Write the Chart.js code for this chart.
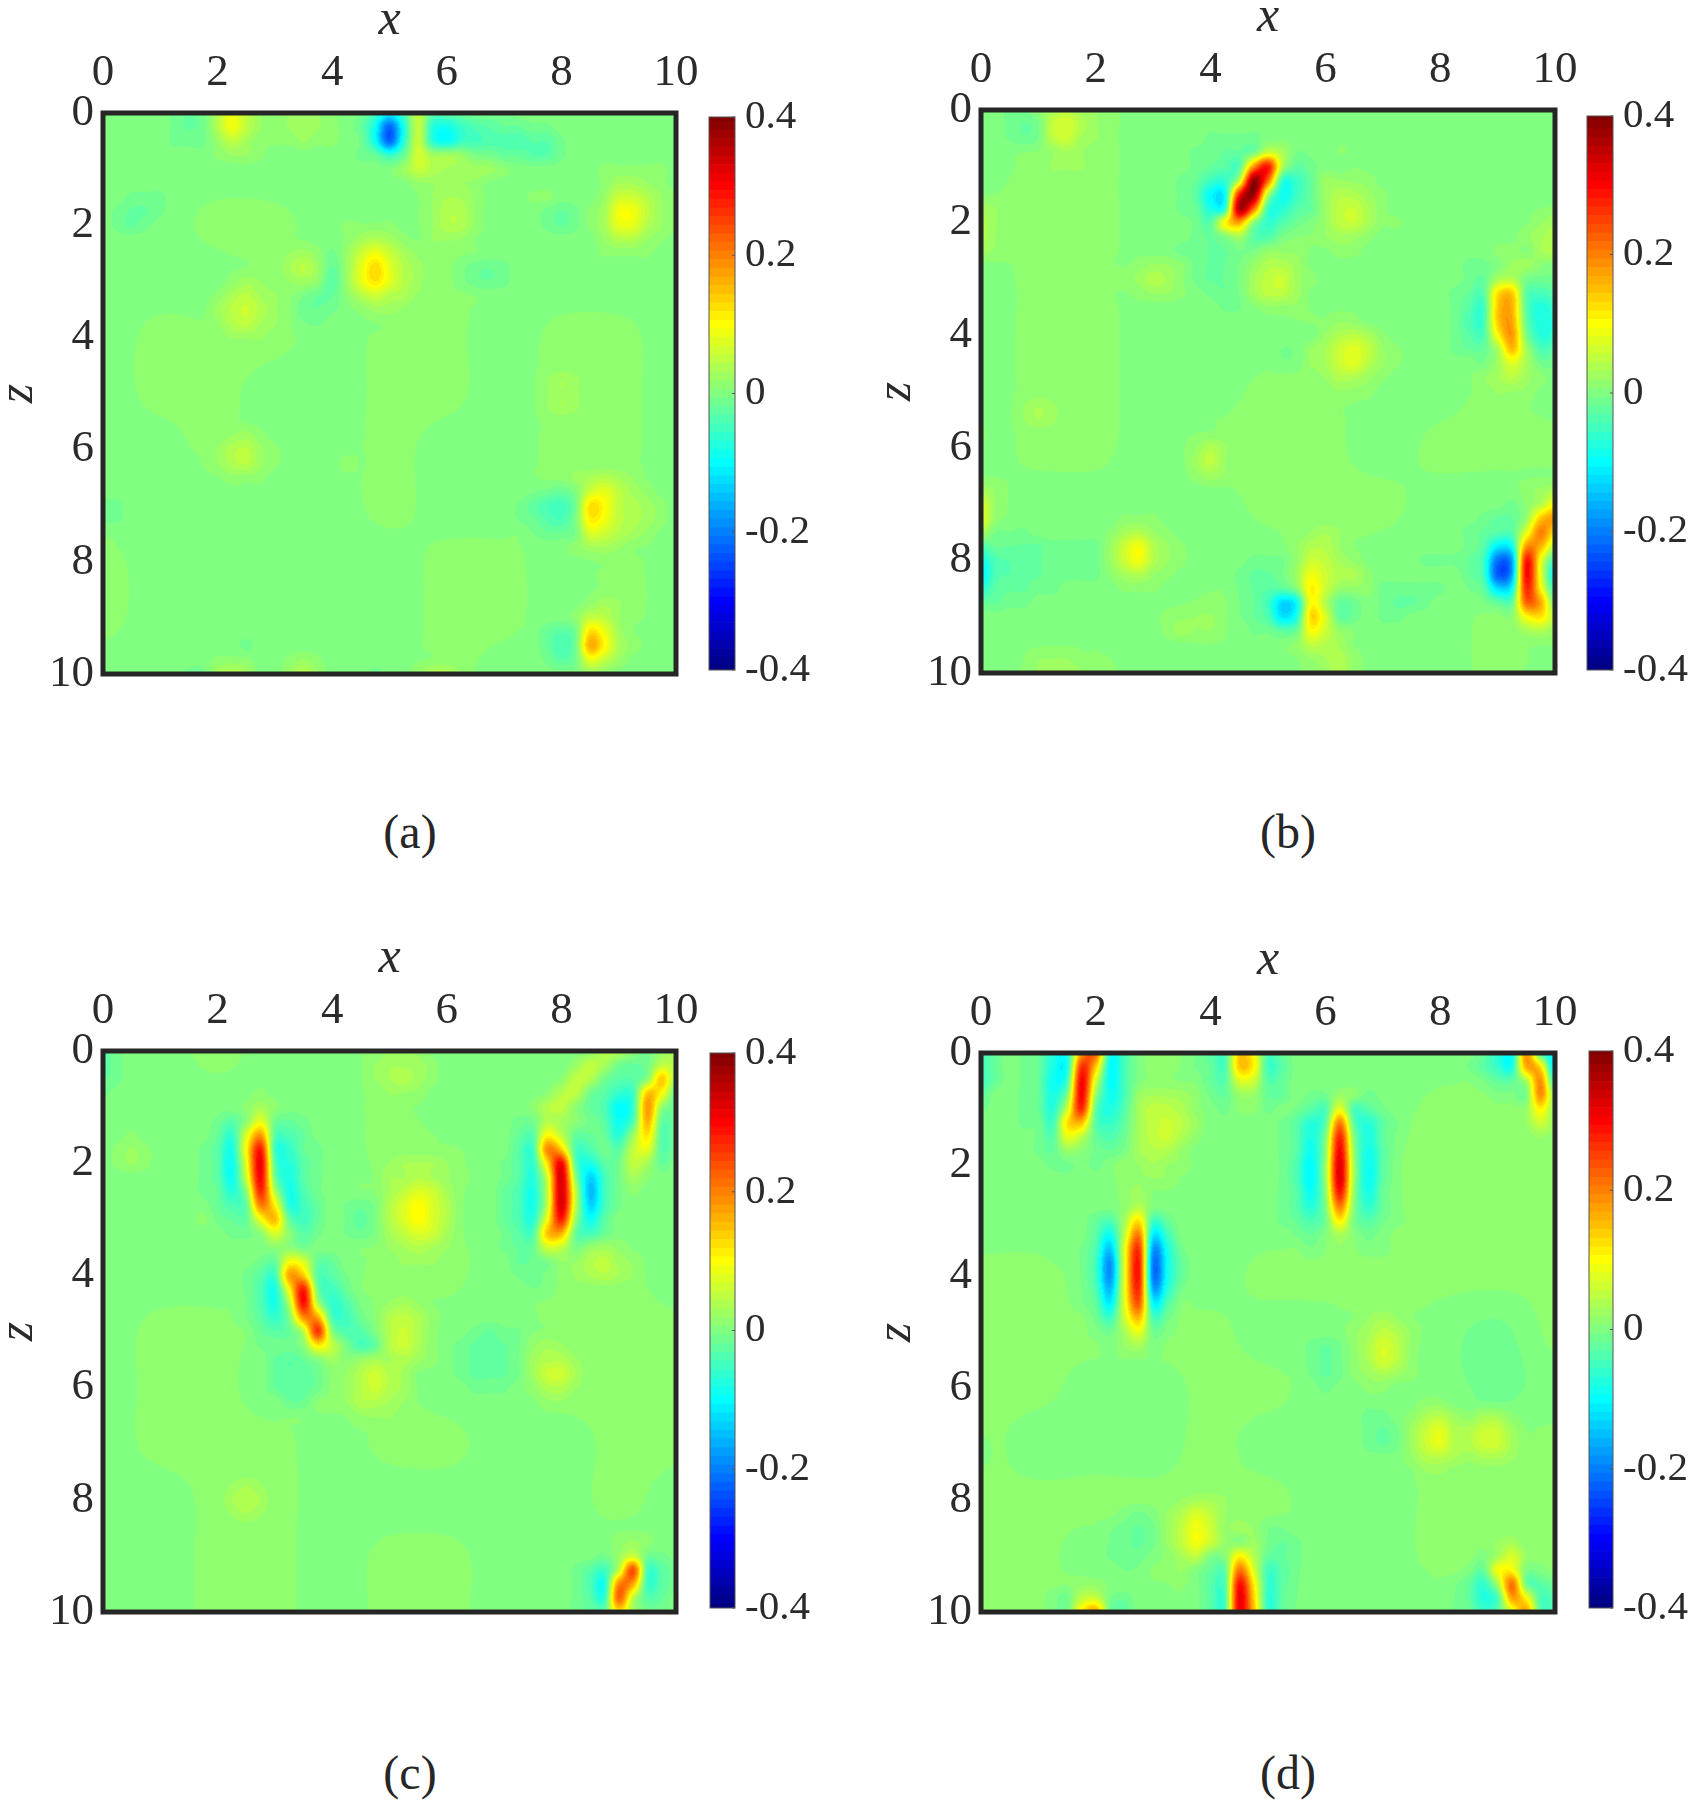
<!DOCTYPE html>
<html>
<head>
<meta charset="utf-8">
<script src="https://cdn.jsdelivr.net/npm/chart.js@4"></script>
<style>
  html, body { margin: 0; padding: 0; background: #fff; }
  body { position: relative; width: 1695px; height: 1800px; overflow: hidden; }
  canvas { position: absolute; }
  .caption { position: absolute; width: 120px; text-align: center; font: 48px "Liberation Serif", serif; color: #262626; line-height: 56px; }
</style>
</head>
<body>
<script>
'use strict';

const axisTicks = [0, 2, 4, 6, 8, 10];
const colorTicks = [-0.4, -0.2, 0, 0.2, 0.4];
const captions = ['(a)', '(b)', '(c)', '(d)'];
const gridStep = 0.25;   // spacing of the nodes
const levelStep = 0.0125; // width of one colour band

// faint background per whole unit, rows z=0..10, columns x=0..10 (hundredths)
const baseA = [
  [0,0,0,0,0,0,0,0,0,0,0],
  [0,0,0,0,0,0,1,0,0,0,0],
  [0,0,1,1,0,0,1,0,0,0,0],
  [0,0,0,1,0,0,1,0,0,0,0],
  [0,1,1,1,0,1,1,0,1,1,0],
  [0,1,1,0,0,1,1,0,1,1,0],
  [0,0,1,0,0,1,0,0,1,1,0],
  [0,0,0,0,0,1,0,0,1,1,0],
  [1,0,0,0,0,0,1,1,0,1,0],
  [1,0,0,0,0,0,1,1,0,1,0],
  [0,0,0,0,0,0,1,0,0,0,0]
];
const baseB = [
  [0,0,1,0,0,0,0,0,0,0,0],
  [0,1,1,0,0,0,1,0,0,0,0],
  [1,1,1,0,0,0,1,0,0,0,1],
  [0,1,1,0,0,1,0,0,0,0,1],
  [0,1,1,0,0,0,1,0,0,0,0],
  [0,1,1,0,0,1,1,0,0,1,0],
  [0,1,1,0,1,1,1,0,1,1,1],
  [1,0,0,0,0,1,1,1,0,0,0],
  [0,0,0,0,0,0,1,0,0,0,0],
  [0,0,0,0,1,0,1,0,0,1,1],
  [0,1,1,0,0,0,1,0,0,1,0]
];
const baseC = [
  [0,0,1,0,0,1,0,0,0,0,0],
  [0,0,0,0,0,1,0,0,0,0,0],
  [0,0,0,0,0,1,1,0,0,0,0],
  [0,0,0,0,0,1,1,0,0,0,0],
  [0,0,0,0,0,1,1,0,1,1,0],
  [0,1,1,0,0,1,0,0,1,1,1],
  [0,1,1,0,1,1,0,0,1,1,1],
  [0,1,1,1,0,1,1,0,0,1,1],
  [0,0,1,1,0,0,0,0,0,1,0],
  [0,0,1,1,0,1,1,0,0,0,0],
  [0,0,1,1,0,1,1,0,0,0,0]
];
const baseD = [
  [0,0,0,1,0,0,0,0,0,0,0],
  [0,0,0,1,0,0,0,0,1,1,1],
  [0,0,0,1,0,0,0,1,1,1,1],
  [0,0,0,0,0,0,0,1,1,1,1],
  [1,1,0,0,0,1,1,1,1,1,1],
  [1,1,1,1,1,0,0,1,0,-1,1],
  [1,1,0,0,1,1,0,0,0,-1,0],
  [1,0,0,0,1,0,0,0,1,1,1],
  [1,1,1,1,1,1,0,0,1,1,1],
  [1,1,0,1,1,0,0,0,1,1,1],
  [1,1,1,0,1,1,0,0,0,1,1]
];

// values, in hundredths: [z, first x, values at x, x+0.25, ...]
const spansA = [
  [0,1.25,-1,-2,-1,4,9,5,2,1,2,3,2,1,0,-1,-5,-11,-4,5,-3,-3,-2,-1,-1,-1],
  [0.25,1.25,-1,-2,-1,4,9,5,2,1,2,3,2,1,0,-2,-9,-22,-8,5,-7,-9,-6,-4,-3,-2,-2,-1,-1],
  [0.5,1.25,-1,-1,-1,2,5,3,1,1,1,2,1,1,0,-1,-9,-22,-7,5,-7,-10,-6,-5,-4,-4,-4,-3,-3,-1],
  [0.75,2,1,2,2,1],
  [0.75,4.5,-1,-2,-6,-2,6,2,2,1,-1,-1,-2,-2,-3,-3,-1],
  [1,5.25,2,5,3,2,2,2,2,1],
  [1.25,5.5,1,1,1,1,1],
  [1.5,5.75,1,2,2,1],[1.75,5.75,1,3,3,1],[2,5.75,1,3,3,1],[2.25,5.75,1,1,1],
  [1.5,0.5,-1,-1,-1],[1.75,0.25,-1,-2,-2,-1],[2,0.25,-1,-2,-1],
  [1.75,7.75,-1,-2,-1],[2,7.75,-1,-2,-1],[1.5,7.5,1,1],
  [1,8.75,1,1,1,1,1],[1.25,8.75,1,3,3,2,1],[1.5,8.75,2,6,6,4,2,1],
  [1.75,8.5,1,3,9,9,5,2,1],[2,8.5,1,3,8,8,4,2,1],[2.25,8.75,2,4,4,2,1],[2.5,8.75,1,1,1,1],
  [2.5,4,-1],[2.75,4,-2],[3,3.75,-1,-3],[3.25,3.5,-1,-2,-2],[3.5,3.5,-2,-2,-1],[3.75,3.5,-1,-1],
  [2,4.25,1,1,1,1],[2.25,4.25,1,3,4,3,1],[2.5,4.25,2,6,9,6,3,1],[2.75,4.25,2,8,13,8,4,2],
  [3,4.25,2,8,12,8,4,2],[3.25,4.25,1,4,6,4,3,1],[3.5,4.5,1,2,2,1],
  [2.5,3.25,1,2,1],[2.75,3.25,2,4,2],[3,3.25,1,2,1],
  [3,2.25,1,2,1],[3.25,2,1,3,4,2,1],[3.5,2,2,4,5,3,1],[3.75,2,1,3,4,2,1],[4,2.25,1,1,1],
  [5.75,2.25,1,2,1],[6,2,1,3,4,2,1],[6.25,2,1,3,4,2,1],[6.5,2.25,1,1,1],
  [2.75,6.25,-1,-2,-2,-1],[3,6.25,-1,-2,-2,-1],
  [6.25,4.25,1],
  [4.75,7.75,1,2,1],[5,7.75,1,2,1],[5.25,7.75,1,2,1],
  [7,0,-1,-1],[7.25,0,-1,-1],
  [6.5,8.25,1,2,3,2,1],
  [6.75,7.5,-1,-2,-3,-1,5,7,4,2,1],
  [7,7.25,-1,-3,-5,-6,-2,11,9,4,3,2,1],
  [7.25,7.25,-1,-2,-4,-5,-1,10,8,4,3,2,1],
  [7.5,7.5,-1,-2,-2,-1,6,5,3,2,1],
  [7.75,8.25,1,2,2,1],
  [8.75,8.5,1,2,1],[9,8.25,1,5,4,1],
  [9.25,7.75,-2,-3,-1,12,8,2],[9.5,7.75,-2,-4,-1,16,10,3,1],[9.75,7.75,-1,-3,-1,8,5,2],[10,8.5,2,1],
  [10,1.5,-1,-1,3,4,3],[9.75,2,1,1,1],[9.75,3.25,1,2,1],[10,3.25,2,4,2],
  [10,4.75,-1],[10,5.5,1,3,3,1],[9.5,2.5,-1]
];
const spansB = [
  [0.5,4,-1,-1,-1,-1],
  [0.75,3.75,-1,-1,-2,-2,-1,6,3,-1,-1,-1],
  [1,3.75,-1,-2,-3,-3,18,28,4,-3,-2,-1,-1],
  [1.25,3.5,-1,-2,-5,-6,5,38,22,-6,-6,-3,-1,-1],
  [1.5,3.5,-1,-3,-10,-9,28,38,4,-9,-6,-3,-1],
  [1.75,3.5,-1,-2,-8,-6,36,22,-5,-7,-4,-3,-1],
  [2,3.5,0,-1,-3,10,17,1,-6,-4,-2,-1],
  [2.25,3.5,0,-1,-2,0,3,-3,-4,-1],
  [2.5,3.5,-1,-1,-2,-2,-1,-1,-1],
  [2.75,3.5,0,-1,-2,-2,-1,-1],
  [3,3.75,-1,-2,-2,-1],[3.25,4,-1,-2,-1],[3.5,4.25,-1,-1],
  [0,1,1,3,4,2,1],[0.25,1,2,5,6,3,1],[0.5,1,1,4,5,2,1],[0.75,1.25,1,2,1],[1,1.25,1,1,1],
  [0,0.5,-1,-1],[0.25,0.5,-1,-2,-1],[0.5,0.5,-1,-2,-1],
  [1.25,6,1,1,1,1],[1.5,6,1,3,3,2,1],[1.75,6,1,4,5,3,1],[2,6,1,4,5,3,1,1],[2.25,6,1,2,2,1],[2.5,6.25,1,1],
  [2.5,5,1,1,1],[2.75,4.75,1,3,3,2],[3,4.75,2,4,5,2,1],[3.25,4.75,2,4,4,2],[3.5,5,1,1,1],
  [2.75,2.75,1,2,2,1],[3,2.5,1,2,4,3,1],[3.25,2.75,1,2,2,1],
  [4,5.5,-1,-1],[4.25,5.25,-1,-1,-2],[4.5,5.25,-1,-1,-1],
  [3.75,6.25,1,1],[4,6,1,3,4,3,1],[4.25,5.75,1,2,5,7,5,2,1],[4.5,5.75,1,2,5,7,4,2,1],[4.75,6,1,3,3,2,1],[5,6.25,1,1,1],
  [2.5,9,1,1],
  [2.75,8.5,-1,-1,0,2,2,0,-1],
  [3,8.5,-1,-2,3,4,-1,-2,-2],
  [3.25,8.25,-1,-2,-3,12,14,-3,-5,-4],
  [3.5,8.25,-1,-3,-5,14,16,-3,-8,-6],
  [3.75,8.25,-1,-4,-5,14,17,-2,-8,-7],
  [4,8.25,-1,-3,-4,10,18,0,-7,-6],
  [4.25,8.25,-1,-2,-2,3,15,3,-4,-3],
  [4.5,8.5,0,-1,2,7,3,-1,-1],
  [4.75,8.75,1,2,4,2,1],[5,9,1,1,1],
  [2,9.75,1,2],[2.25,9.5,1,2,3],[2.5,9.75,2,3],
  [1.75,0,2,1],[2,0,3,1],[2.25,0,3,1],[2.5,0,2,1],
  [5.25,0.75,1,2,1],[5.5,0.75,1,2,1],
  [6,3.75,1,3,1],[6.25,3.75,2,4,1],[6.5,3.75,1,2,1],
  [5.75,0,1],[6.75,0,2,1],[7,0,6,1],[7.25,0,7,1],[7.5,0,3],
  [7.5,0.25,-1,-1,-1],
  [7.75,0,-4,-2,-2,-2,-2,-1,-1,-1,-1],[8,0,-9,-4,-3,-2,-2,-1,-1,-1,-1],[8.25,0,-11,-4,-3,-2,-2,-1,-1,-1,-1],
  [8.5,0,-7,-3,-2,-2,-1,-1],[8.75,0,-2,-2,-1,-1],
  [7.25,2.5,1,1,1],[7.5,2.25,1,3,4,2,1],[7.75,2.25,2,6,9,4,2,1],[8,2.25,2,6,9,4,2,1],[8.25,2.25,1,3,4,2,1],[8.5,2.5,1,1,1],
  [7.5,5.75,1,2,1],[7.75,5.5,1,3,3,1],
  [8,4.75,-1,-1,-1,1,5,4,2,1],
  [8.25,4.5,-1,-2,-2,-1,2,8,5,3,3,1],
  [8.5,4.5,-1,-2,-3,-3,0,10,5,1,1,1],
  [8.75,4.5,-1,-2,-5,-13,-10,9,3,-3,-2,0,-1,-2,-2,-1],
  [9,4.5,-1,-2,-4,-12,-8,12,6,-3,-2,0,-1,-1],
  [9.25,4.75,-1,-1,-3,-2,9,5,1],
  [9.5,5.5,1,4,3,2],[9.75,5.75,1,2,3,1],[10,6,1,3,1],
  [8.5,7,-1,-1,-1,-1,-1],
  [8,7.75,-1,-1,-1,-2],
  [6.75,9.5,1,2,3],
  [7,9.25,-1,1,4,10],[7.25,8.75,-1,-2,-2,2,14,18],[7.5,8.5,-1,-2,-3,-3,8,20,12],
  [7.75,8.5,-1,-3,-11,-9,18,16,4],[8,8.5,-2,-5,-21,-17,28,9,-6],[8.25,8.5,-2,-5,-23,-17,29,8,-11],
  [8.5,8.5,-1,-3,-13,-10,26,10,-7],[8.75,8.75,-1,-3,-3,21,16,-2],[9,9.25,0,9,11,3],[9.25,9.5,2,3,1],
  [9,3.25,1,1,1,1],[9.25,3.25,1,2,1,1],[9.75,1,1,1,1],[10,1,1,2,2,1]
];
const spansC = [
  [0.75,2.75,1],[1,2.5,1,3,1],
  [1.25,2,-1,-3,1,8,-1,-2,-1],
  [1.5,2,-2,-6,7,18,-3,-4,-2],
  [1.75,1.75,-1,-3,-8,10,28,-5,-6,-2,-1],
  [2,1.75,-1,-3,-9,8,31,-3,-7,-3,-1],
  [2.25,1.75,-1,-3,-9,6,30,-1,-8,-3,-1],
  [2.5,1.75,-1,-2,-7,1,27,4,-8,-4,-1],
  [2.75,2,-2,-4,-2,20,11,-7,-5,-2],
  [3,2,-1,-2,-2,9,15,-2,-5,-2],
  [3.25,2.25,-1,-1,1,7,1,-3,-1],
  [3.5,3,1,1,-1],
  [3.75,2.75,-1,-2,9,7,-2,-2],
  [4,2.5,-1,-3,-5,17,14,-3,-3,-1],
  [4.25,2.5,-1,-4,-8,10,28,-1,-5,-2],
  [4.5,2.5,-1,-4,-8,4,29,4,-6,-4,-1],
  [4.75,2.5,-1,-3,-6,0,19,17,-4,-5,-2],
  [5,2.75,-2,-3,-2,5,26,1,-4,-4,-1],
  [5.25,2.75,-1,-1,-1,1,11,5,-1,-5,-3],
  [5.5,3,-2,-3,-2,0,2,0],[5.75,3,-2,-3,-3,-2],[6,3,-2,-3,-3,-2],[6.25,3.25,-2,-2],
  [5.5,4.5,1,2,2,1],[5.75,4.25,1,3,5,3,2],[6,4.25,1,3,5,3,2],[6.25,4.25,1,3,3,2,1],[6.5,4.5,1,1,1],
  [4.5,5,1,2,1],[4.75,5,3,4,3,1],[5,5,3,5,3,1],[5.25,5,3,5,3,1],[5.5,5,2,3,2,1],
  [2,5,1,2,2,2,1],[2.25,5,2,2,3,2,1],[2.5,5,2,4,6,5,2],[2.75,5,3,6,9,6,3],[3,5,3,6,9,6,3],
  [3.25,5,2,4,6,5,2],[3.5,5,1,2,3,2,1],[3.75,5.25,1,1,1],
  [2.75,4.25,-1,-2,-1],[3,4.25,-1,-3,-1],[3.25,4.25,-1,-2,-1],
  [0,5,1,1,1],[0.25,4.75,1,2,2,2,1],[0.5,4.75,1,2,3,2,1],[0.75,5,1,1,1],
  [0,0,-3,-1],[0.25,0,-3,-1],[0.5,0,-2,-1],[0.75,0,-1],
  [1.5,0.5,1],[1.75,0.25,1,2,1],[2,0.25,1,2,1],[3,1.75,1],
  [0,8.5,1,4,4,1,-1,2,3],
  [0.25,8.25,2,5,3,-1,-2,-1,5,4],
  [0.5,8,1,5,4,-1,-3,-3,1,14,2],
  [0.75,7.75,1,4,5,-1,-3,-6,-5,14,10,-2],
  [1,7.5,1,4,5,1,-2,-4,-10,-6,18,2,-2],
  [1.25,7.25,-1,-1,4,3,1,-1,-3,-9,-4,16,-2,-1],
  [1.5,7.25,-2,-3,10,5,-2,-2,-2,-7,2,12,-3,-1],
  [1.75,7.25,-3,-5,19,14,-4,-4,-1,-3,5,8,-3,-1],
  [2,7,-1,-3,-6,12,30,-3,-8,-3,-1,5,3,-2],
  [2.25,7,-1,-3,-7,6,33,1,-13,-5,-1,3,1],
  [2.5,7,-2,-4,-8,5,33,5,-15,-5,-1,1],
  [2.75,7,-2,-4,-8,5,33,5,-13,-5,-1],
  [3,7,-2,-4,-7,9,28,2,-9,-3],
  [3.25,7,-1,-3,-4,14,16,-2,-5,-2],
  [3.5,7,-1,-2,-2,6,5,-1,-1],
  [3.75,7.25,-2,-2,-1,1,1],[4,7.25,-1,-2,-1],[4.25,7.5,-1,-1],
  [3.5,8.5,1,2,1],[3.75,8.25,1,3,4,2,1],[4,8.25,1,2,3,2,1],
  [5,6.5,-1,-2,-1,-1],[5.25,6.25,-1,-2,-2,-2,-1],[5.5,6.25,-1,-2,-2,-2,-1],[5.75,6.25,-1,-2,-2,-2,-1],[6,6.5,-1,-1,-1],
  [5.25,7.5,1,2,1],[5.5,7.5,2,3,3,1],[5.75,7.5,2,5,5,2],[6,7.5,1,3,3,1],[6.25,7.75,1,1],
  [7.75,2.25,1,2,1],[8,2.25,2,3,2],[8.25,2.25,1,2,1],
  [8.75,9,1,2,1],[9,8.75,-1,2,6,-1,-1],
  [9.25,8.25,-1,-3,-5,5,24,-4,-3,-1],
  [9.5,8.25,-1,-4,-8,19,17,-5,-3,-1],
  [9.75,8.25,-1,-3,-6,22,5,-3,-2],
  [10,8.25,-1,-2,-2,12,3,-1,-1]
];
const spansD = [
  [0,0.75,-1,-2,-7,-8,18,22,-8,-5,-1],
  [0.25,0.75,-1,-2,-8,-8,26,14,-10,-5,-1],
  [0.5,0.75,-1,-2,-9,-5,30,7,-10,-5,-1],
  [0.75,0.75,-1,-2,-8,0,30,2,-9,-5,-1],
  [1,0.75,-1,-2,-7,6,27,-2,-8,-4,-1],
  [1.25,0.75,-1,-1,-5,12,15,-3,-6,-3],
  [1.5,1,-1,-3,8,5,-2,-4,-2],
  [1.75,1,-1,-2,2,1,-1,-2,-1],
  [2,1.25,-1,-1,0,-1],
  [0,0,-5,-2],[0.25,0,-5,-2],[0.5,0,-5,-2],[0.75,0,-3],[1,0,-1],
  [0.75,2.75,1,2,2,2,1],[1,2.75,2,4,4,3,1],[1.25,2.75,2,4,5,4,2],[1.5,2.75,2,4,5,3,1],[1.75,2.75,2,3,3,1],
  [2,2.5,1,1,2,1,1],[2.25,2.5,1,1,1,1],[2.5,2.5,1,2],
  [0,3.75,-1,-3,-4,14,10,-4,-2],[0.25,3.75,-1,-2,-4,14,11,-5,-3],[0.5,4,-2,-3,7,6,-3,-2],[0.75,4,-1,-2,2,2,-2,-2],[1,4.25,-1,1,1,-1],
  [0.75,5.75,-1,-1,2,1,-1],
  [1,5.5,-1,-3,-4,8,-4,-3,-1],
  [1.25,5.25,-1,-3,-7,-3,20,-3,-7,-3,-1],
  [1.5,5.25,-1,-3,-8,0,27,0,-8,-3,-1],
  [1.75,5.25,-1,-3,-9,1,30,1,-9,-4,-1],
  [2,5.25,-1,-4,-10,2,32,2,-10,-4,-1],
  [2.25,5.25,-1,-4,-10,2,32,2,-10,-4,-1],
  [2.5,5.25,-1,-3,-9,1,28,1,-9,-3,-1],
  [2.75,5.25,-1,-3,-7,0,20,0,-7,-3,-1],
  [3,5.25,-1,-2,-4,-1,11,-1,-4,-2,-1],
  [3.25,5.5,-1,-2,0,3,0,-2,-1],
  [3.5,5.75,-1,0,1,0,-1,-1],
  [2.75,2.5,1,4],
  [3,2,-2,-4,3,12,-5,-2],
  [3.25,2,-3,-9,5,20,-11,-5],
  [3.5,1.75,-1,-4,-14,8,26,-17,-8,-1],
  [3.75,1.75,-1,-5,-18,8,28,-20,-9,-2],
  [4,1.75,-1,-5,-18,8,28,-20,-9,-2],
  [4.25,1.75,-1,-4,-15,8,26,-16,-7,-1],
  [4.5,1.75,-1,-3,-11,7,22,-10,-4],
  [4.75,2,-2,-6,5,14,-5,-2],
  [5,2,-1,-2,2,7,-2,-1],
  [5.25,2.25,-1,1,2,-1],
  [0,8.75,-2,-7,-9,18,-3,-12],
  [0.25,8.5,-1,-3,-6,-8,16,12,-14],
  [0.5,8.75,-1,-3,-3,3,18,-8],
  [0.75,9,-1,-1,-1,18,-1],
  [1,9.5,1,10,0],[1.25,9.5,1,5,1],[1.5,9.75,1],
  [8.75,9,1,2],[9,8.75,-1,2,6,1],
  [9.25,8.5,-1,-3,8,9,-1,-1],
  [9.5,8.25,-1,-3,-7,2,20,-2,-4,-2],
  [9.75,8.25,-1,-3,-8,-5,16,9,-5,-4],
  [10,8.25,-1,-2,-6,-4,6,16,-4,-5],
  [8.5,4.5,2,1,-1,-1],
  [8.75,4.75,2,-1,-2,-1],
  [9,4,-1,0,10,4,-2,-2,-1],
  [9.25,3.75,-1,-3,-3,20,7,-5,-3,-1],
  [9.5,3.75,-1,-4,-4,28,11,-6,-3,-1],
  [9.75,3.75,-1,-4,-5,30,13,-7,-3,-1],
  [10,3.75,-1,-4,-5,30,14,-7,-3,-1],
  [8,3.5,1,2,2,1],[8.25,3.25,1,3,6,4,1],[8.5,3.25,1,4,8,5,1],[8.75,3.25,1,4,8,5,1],[9,3.5,2,4],[9.25,3.5,1],
  [8.25,2.5,-1,-2,-1],[8.5,2.25,-1,-2,-3,-2],[8.75,2.25,-1,-2,-3,-2],[9,2.25,-1,-2,-2,-1],[9.25,2.5,-1,-1],
  [9.5,1.75,1,1],[9.75,1.25,-1,-2,4,5,-1,-2],[10,1.25,-1,-2,10,16,-2,-3],
  [4.75,6.75,1,2,1],[5,6.5,1,2,4,3,1],[5.25,6.5,1,3,6,4,1],[5.5,6.5,1,3,6,4,1],[5.75,6.5,1,2,3,2,1],[6,6.75,1,1],
  [5.25,5.75,-1,-2,-1],[5.5,5.75,-1,-2,-1],[5.75,5.75,-1,-2,-1],[6,6,-1],
  [6.5,6.75,-1,-1],[6.75,6.75,-1,-2,-1],[7,6.75,-1,-2,-1],
  [6.25,7.75,1,1],[6.5,7.5,1,3,4,2],[6.75,7.5,2,5,7,3],[7,7.5,2,5,7,3],[7.25,7.5,1,3,3,2],[7.5,7.75,1,1],
  [6.5,8.5,1,3,3,1],[6.75,8.5,3,5,5,2],[7,8.5,3,5,5,2],[7.25,8.5,1,2,2,1],
  [7.25,4.25,1],[7,0,-1],[7.25,0,-1]
];

const panels = [
  { base: baseA, spans: spansA, left: 103, top: 113, width: 573, height: 561, barLeft: 709, barTop: 117, barW: 26, barH: 553, capX: 410, capY: 832 },
  { base: baseB, spans: spansB, left: 981, top: 110, width: 574, height: 563, barLeft: 1587, barTop: 116, barW: 26, barH: 554, capX: 1288, capY: 832 },
  { base: baseC, spans: spansC, left: 103, top: 1051, width: 573, height: 561, barLeft: 710, barTop: 1053, barW: 25, barH: 555, capX: 410, capY: 1773 },
  { base: baseD, spans: spansD, left: 981, top: 1053, width: 574, height: 559, barLeft: 1589, barTop: 1051, barW: 24, barH: 557, capX: 1288, capY: 1773 }
];

const textColor = '#2b2b2b';
const frameColor = '#262626';

// matlab jet
function jet(v) {
  const t = Math.min(1, Math.max(0, (v + 0.4) / 0.8));
  const ramp = function (c) { return Math.round(255 * Math.min(1, Math.max(0, 1.5 - Math.abs(4 * t - c)))); };
  return [ramp(3), ramp(2), ramp(1)];
}

function buildDetail(spans) {
  const rows = [];
  for (let i = 0; i <= 40; i++) rows.push(new Array(41).fill(0));
  spans.forEach(function (s) {
    const r = Math.round(s[0] / gridStep), c0 = Math.round(s[1] / gridStep);
    for (let k = 2; k < s.length; k++) {
      if (c0 + k - 2 <= 40) rows[r][c0 + k - 2] = s[k];
    }
  });
  return rows;
}

function cubic(a, b, c, d, t) {
  return b + 0.5 * t * (c - a + t * (2 * a - 5 * b + 4 * c - d + t * (3 * (b - c) + d - a)));
}

// smooth shading between the nodes of a square table, like shading interp
function sampleGrid(rows, fx, fz) {
  const n = rows.length - 1;
  const ix = Math.min(n - 1, Math.floor(fx)), iz = Math.min(n - 1, Math.floor(fz));
  const tx = fx - ix, tz = fz - iz;
  const col = [];
  for (let j = -1; j <= 2; j++) {
    const r = rows[Math.min(n, Math.max(0, iz + j))];
    col.push(cubic(r[Math.max(0, ix - 1)], r[ix], r[ix + 1], r[Math.min(n, ix + 2)], tx));
  }
  return cubic(col[0], col[1], col[2], col[3], tz);
}

const heatPlugin = {
  id: 'heat',
  beforeDatasetsDraw: function (chart) {
    const area = chart.chartArea, xs = chart.scales.x, ys = chart.scales.y;
    const ds = chart.data.datasets[0];
    const w = Math.ceil(area.right - area.left), h = Math.ceil(area.bottom - area.top);
    const off = document.createElement('canvas');
    off.width = w; off.height = h;
    const octx = off.getContext('2d');
    const img = octx.createImageData(w, h);
    for (let py = 0; py < h; py++) {
      const z = Math.min(10, Math.max(0, ys.getValueForPixel(area.top + py + 0.5)));
      for (let px = 0; px < w; px++) {
        const x = Math.min(10, Math.max(0, xs.getValueForPixel(area.left + px + 0.5)));
        const v = (sampleGrid(ds.rows, x / gridStep, z / gridStep) + sampleGrid(ds.base, x, z)) / 100;
        const c = jet(Math.round(v / levelStep) * levelStep);
        const o = 4 * (py * w + px);
        img.data[o] = c[0]; img.data[o + 1] = c[1]; img.data[o + 2] = c[2]; img.data[o + 3] = 255;
      }
    }
    octx.putImageData(img, 0, 0);
    chart.ctx.drawImage(off, area.left, area.top);
  },
  afterDraw: function (chart) {
    const a = chart.chartArea, ctx = chart.ctx;
    ctx.save();
    ctx.strokeStyle = frameColor;
    ctx.lineWidth = 5;
    ctx.strokeRect(a.left, a.top, a.right - a.left, a.bottom - a.top);
    ctx.restore();
  }
};

const barPlugin = {
  id: 'barframe',
  afterDraw: function (chart) {
    const a = chart.chartArea, ctx = chart.ctx, ys = chart.scales.y;
    ctx.save();
    ctx.strokeStyle = '#555';
    ctx.lineWidth = 1;
    ctx.strokeRect(a.left, a.top, a.right - a.left, a.bottom - a.top);
    colorTicks.forEach(function (t) {
      const y = ys.getPixelForValue(t);
      ctx.beginPath();
      ctx.moveTo(a.right - 3, y);
      ctx.lineTo(a.right, y);
      ctx.stroke();
    });
    ctx.restore();
  }
};

function addCanvas(left, top, w, h) {
  const c = document.createElement('canvas');
  c.width = w; c.height = h;
  c.style.left = left + 'px';
  c.style.top = top + 'px';
  document.body.appendChild(c);
  return c.getContext('2d');
}

function drawPanel(p) {
  const padLeft = 103, padTop = 113, padRight = 45, padBottom = 45;
  const cw = padLeft + p.width + padRight, ch = padTop + p.height + padBottom;
  const ctx = addCanvas(p.left - padLeft, p.top - padTop, cw, ch);
  const rows = buildDetail(p.spans);
  const nodes = [];
  rows.forEach(function (r, i) {
    r.forEach(function (v, j) { nodes.push({ x: j * gridStep, y: i * gridStep, v: v }); });
  });
  const tickFont = { family: '"Liberation Serif", serif', size: 45 };
  const titleFont = { family: '"Liberation Serif", serif', size: 50, style: 'italic', lineHeight: 1 };
  new Chart(ctx, {
    type: 'scatter',
    data: { datasets: [{ data: nodes, rows: rows, base: p.base, pointRadius: 0 }] },
    options: {
      responsive: false,
      animation: false,
      events: [],
      layout: { padding: { top: 0, left: 0, right: padRight, bottom: padBottom } },
      plugins: { legend: { display: false }, tooltip: { enabled: false } },
      scales: {
        x: {
          type: 'linear', position: 'top', min: 0, max: 10,
          grid: { display: false, drawTicks: false }, border: { display: false },
          title: { display: true, text: 'x', color: textColor, font: titleFont, padding: { top: -4, bottom: 0 } },
          ticks: { color: textColor, font: tickFont, padding: 13, maxRotation: 0, autoSkip: false, callback: function (v) { return String(v); } },
          afterBuildTicks: function (s) { s.ticks = axisTicks.map(function (v) { return { value: v }; }); },
          afterFit: function (s) { s.height = padTop; }
        },
        y: {
          type: 'linear', reverse: true, min: 0, max: 10,
          grid: { display: false, drawTicks: false }, border: { display: false },
          title: { display: true, text: 'z', color: textColor, font: titleFont, padding: { top: -6, bottom: 0 } },
          ticks: { color: textColor, font: tickFont, padding: 9, autoSkip: false, callback: function (v) { return String(v); } },
          afterBuildTicks: function (s) { s.ticks = axisTicks.map(function (v) { return { value: v }; }); },
          afterFit: function (s) { s.width = padLeft; }
        }
      }
    },
    plugins: [heatPlugin]
  });
}

function drawBar(p) {
  const padLeft = 10, padTop = 45, padBottom = 45, labelW = 90;
  const cw = padLeft + p.barW + labelW, ch = padTop + p.barH + padBottom;
  const ctx = addCanvas(p.barLeft - padLeft, p.barTop - padTop, cw, ch);
  const datasets = [];
  for (let k = -32; k <= 32; k++) {
    const c = jet(k * levelStep);
    datasets.push({
      data: [[Math.max(-0.4, (k - 0.5) * levelStep), Math.min(0.4, (k + 0.5) * levelStep)]],
      backgroundColor: 'rgb(' + c.join(',') + ')',
      barPercentage: 1, categoryPercentage: 1, grouped: false
    });
  }
  new Chart(ctx, {
    type: 'bar',
    data: { labels: [''], datasets: datasets },
    options: {
      responsive: false,
      animation: false,
      events: [],
      layout: { padding: { top: padTop, left: padLeft, right: 0, bottom: padBottom } },
      plugins: { legend: { display: false }, tooltip: { enabled: false } },
      scales: {
        x: { display: false },
        y: {
          type: 'linear', position: 'right', min: -0.4, max: 0.4,
          grid: { display: false, drawTicks: false }, border: { display: false },
          ticks: {
            color: textColor, font: { family: '"Liberation Serif", serif', size: 41 }, padding: 10, autoSkip: false,
            callback: function (v) { return v === 0 ? '0' : v.toFixed(1); }
          },
          afterBuildTicks: function (s) { s.ticks = colorTicks.map(function (v) { return { value: v }; }); },
          afterFit: function (s) { s.width = labelW; }
        }
      }
    },
    plugins: [barPlugin]
  });
}

panels.forEach(function (p, i) {
  drawPanel(p);
  drawBar(p);
  const cap = document.createElement('div');
  cap.className = 'caption';
  cap.textContent = captions[i];
  cap.style.left = (p.capX - 60) + 'px';
  cap.style.top = (p.capY - 28) + 'px';
  document.body.appendChild(cap);
});
</script>
</body>
</html>
